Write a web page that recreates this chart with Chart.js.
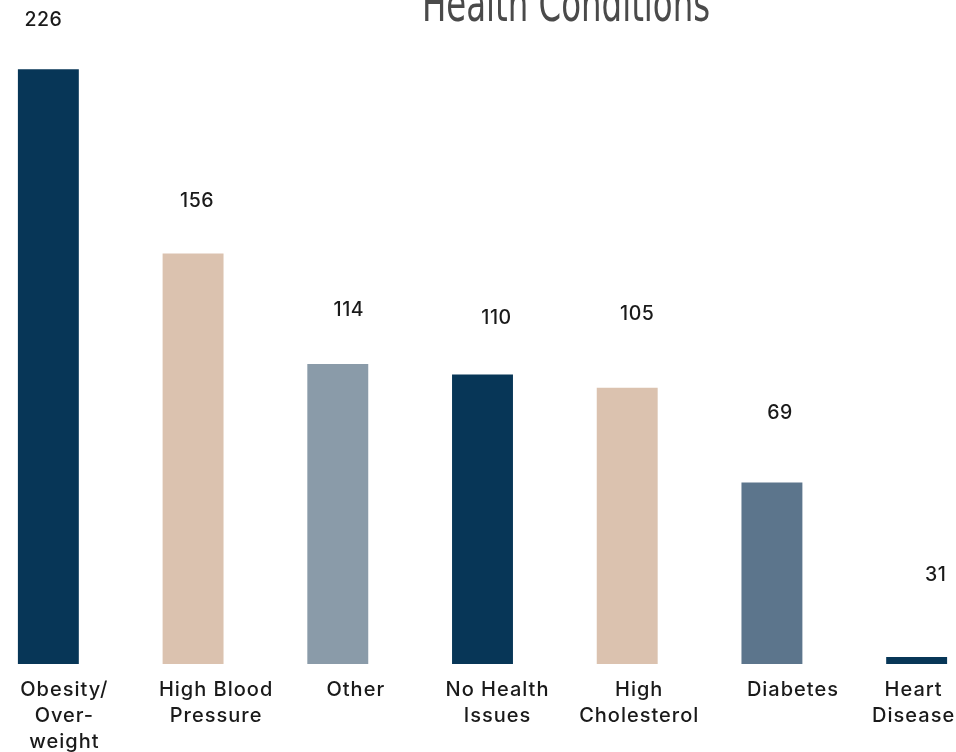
<!DOCTYPE html>
<html>
<head>
<meta charset="utf-8">
<script src="https://cdn.jsdelivr.net/npm/chart.js@4/dist/chart.umd.min.js"></script>
<style>
    html, body { margin: 0; padding: 0; background: #fff; overflow: hidden; width: 956px; height: 752px; }
    #wrap { position: absolute; left: -24px; top: 0; }
    #title {
        position: absolute; left: 566px; top: -21px;
        transform: translateX(-50%) scaleX(0.72);
        font-family: "Liberation Sans Narrow", "DejaVu Sans Condensed", sans-serif;
        font-size: 50px; color: #4a4a4a; white-space: nowrap; line-height: 1;
    }
</style>
</head>
<body>
<div id="wrap"><canvas id="chart" width="1013" height="752"></canvas></div>
<div id="title">Health Conditions</div>
<script>
const categories = [
    ['Obesity/', 'Over-', 'weight'],
    ['High Blood', 'Pressure'],
    ['Other'],
    ['No Health', 'Issues'],
    ['High', 'Cholesterol'],
    ['Diabetes'],
    ['Heart', 'Disease']
];
// bar heights as drawn (the last bar is drawn much shorter than its label)
const barValues = [226, 156, 114, 110, 105, 69, 2.7];
const labelValues = ['226', '156', '114', '110', '105', '69', '31'];
const barColors = ['#073657', '#dbc2af', '#8a9ba9', '#073657', '#dbc2af', '#5c758c', '#073657'];

const valueFont = '500 19.5px Inter, "Noto Sans", sans-serif';
const categoryFont = '500 20px Inter, "Noto Sans", sans-serif';

// value labels above the bars
const valueLabels = {
    id: 'valueLabels',
    afterDatasetsDraw(chart, args, opts) {
        const ctx = chart.ctx;
        const meta = chart.getDatasetMeta(0);
        ctx.save();
        ctx.font = valueFont;
        ctx.letterSpacing = '0.5px';
        ctx.fillStyle = '#1a1a1a';
        ctx.textAlign = 'center';
        ctx.textBaseline = 'middle';
        meta.data.forEach((bar, i) => {
            ctx.fillText(labelValues[i], bar.x + opts.dx[i], bar.y - opts.dy[i]);
        });
        ctx.restore();
    }
};

// category names under the bars, placed from the x scale
const categoryLabels = {
    id: 'categoryLabels',
    afterDraw(chart, args, opts) {
        const ctx = chart.ctx;
        const x = chart.scales.x;
        const top = chart.chartArea.bottom + 26;
        ctx.save();
        ctx.font = categoryFont;
        ctx.letterSpacing = '1px';
        ctx.fillStyle = '#1a1a1a';
        ctx.textAlign = 'center';
        ctx.textBaseline = 'middle';
        categories.forEach((lines, i) => {
            const cx = x.getPixelForValue(i) + opts.dx[i];
            lines.forEach((line, j) => {
                ctx.fillText(line, cx, top + j * 26);
            });
        });
        ctx.restore();
    }
};

new Chart(document.getElementById('chart'), {
    type: 'bar',
    data: {
        labels: categories,
        datasets: [{
            data: barValues,
            backgroundColor: barColors,
            barPercentage: 0.421,
            categoryPercentage: 1
        }]
    },
    options: {
        responsive: false,
        animation: false,
        layout: { padding: { top: 6, left: 0, right: 0, bottom: 0 } },
        plugins: {
            legend: { display: false },
            tooltip: { enabled: false },
            valueLabels: {
                dx: [-5, 4, 11, 14, 10, 8, 19],
                dy: [49, 52, 54, 56, 73, 69, 82]
            },
            categoryLabels: { dx: [16, 23, 18, 15, 12, 21, -3] }
        },
        scales: {
            x: {
                grid: { display: false, drawTicks: false },
                border: { display: false },
                ticks: { display: false },
                afterFit(scale) { scale.height = 88; }
            },
            y: {
                display: false,
                min: 0,
                max: 250
            }
        }
    },
    plugins: [valueLabels, categoryLabels]
});
</script>
</body>
</html>
